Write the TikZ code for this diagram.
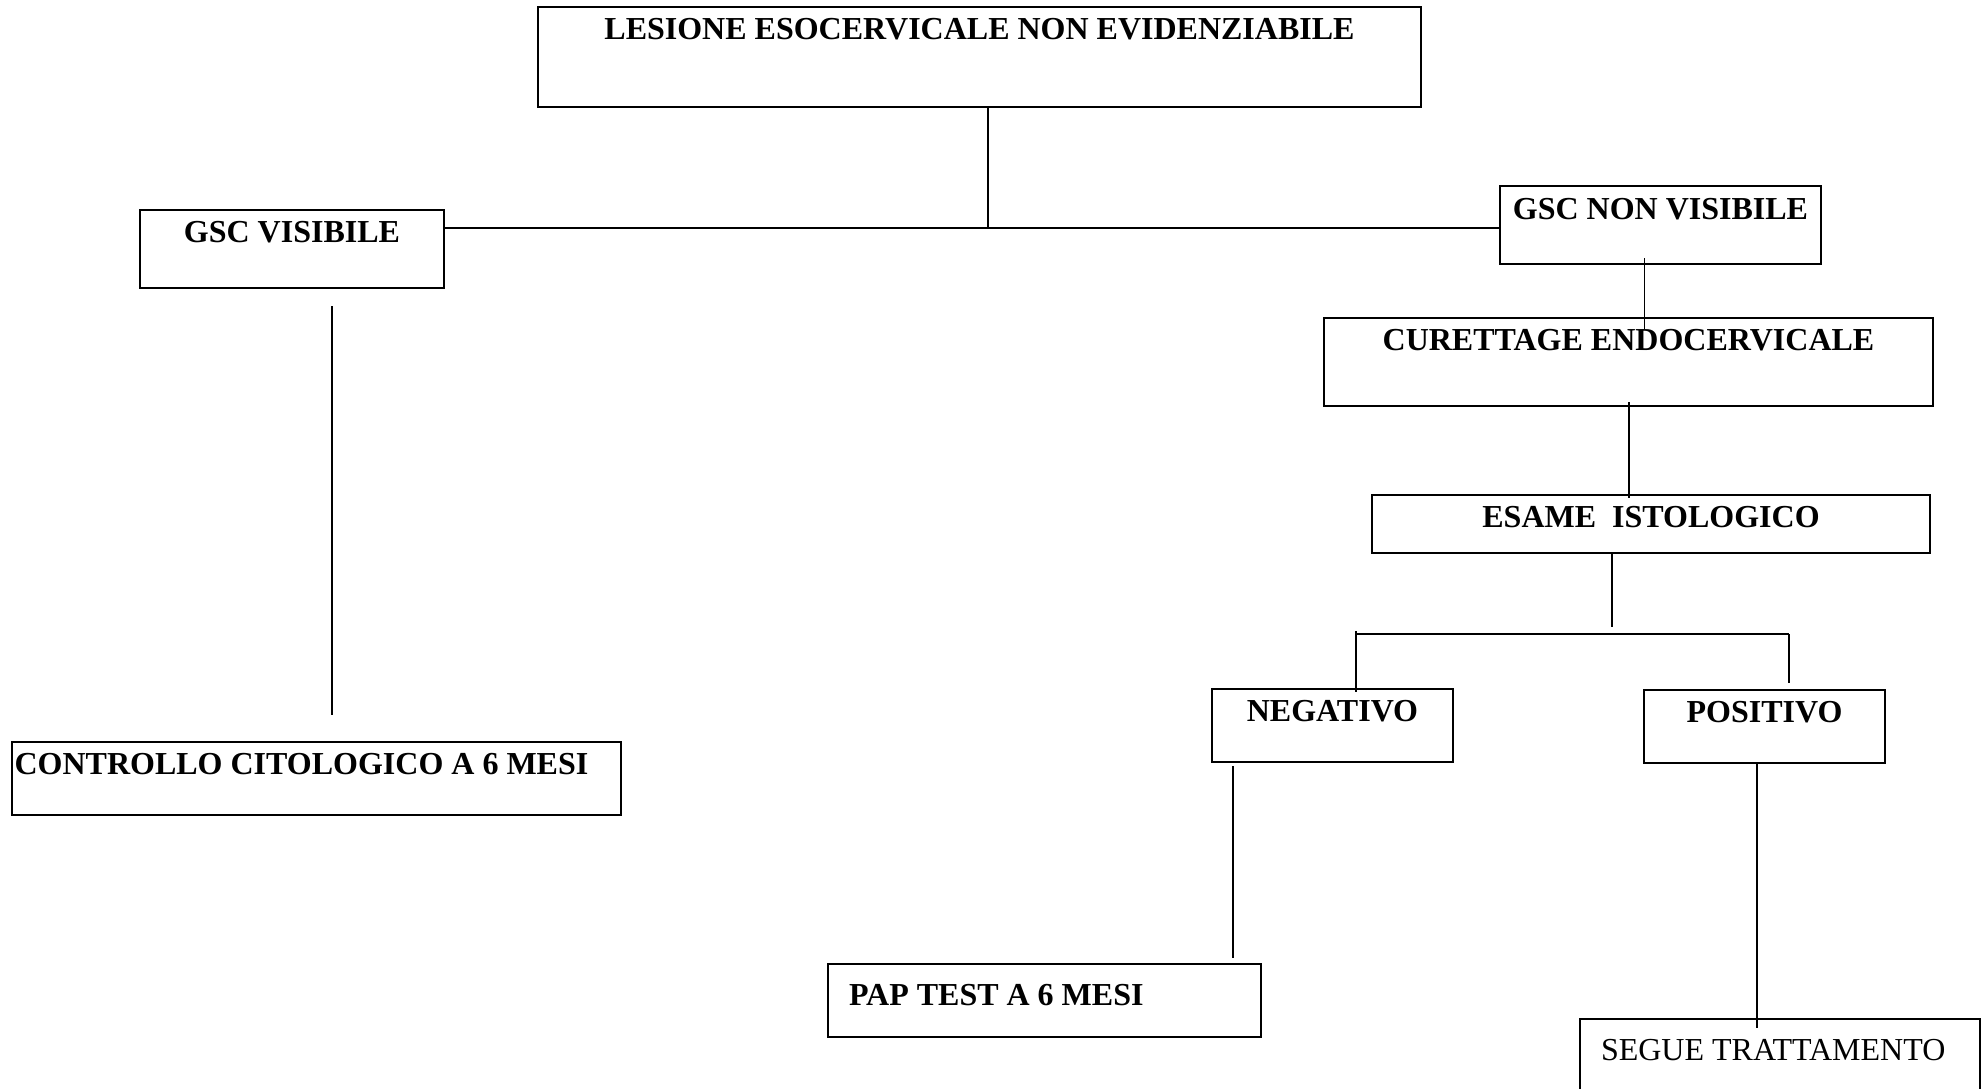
\documentclass[tikz,border=0pt]{standalone}
\usepackage{fontspec}
\setmainfont{Liberation Serif}
\begin{document}
\begin{tikzpicture}[x=0.5pt,y=-0.5pt,
  box/.style={draw, line width=1pt, rectangle, anchor=north west,
    inner xsep=0pt, inner ysep=0pt, outer sep=0pt,
    font=\fontsize{16pt}{19pt}\selectfont\bfseries},
  leftbox/.style={box, inner xsep=#1},
  leftbox/.default=2pt,
  link/.style={line width=0.75pt}]
\useasboundingbox (0,0) rectangle (1982,1088);
\clip (0,0) rectangle (1982,1088);

% boxes (text sits on the top line of each box)
\node[box, minimum width=441.5pt, text height=16pt, text depth=34pt] (top) at (538,7)
  {LESIONE ESOCERVICALE NON EVIDENZIABILE};
\node[box, minimum width=152pt, text height=16pt, text depth=23pt] (gscv) at (140,210)
  {GSC VISIBILE};
\node[leftbox=1.5pt, text height=16pt, text depth=20.25pt] (ctrl) at (11.6,742)
  {\makebox[301.5pt][l]{CONTROLLO CITOLOGICO A 6 MESI}};
\node[box, minimum width=160.5pt, text height=16.5pt, text depth=22.5pt] (gscnv) at (1500,186)
  {GSC NON VISIBILE};
\node[box, minimum width=304.5pt, text height=16pt, text depth=28pt] (cur) at (1324,318)
  {CURETTAGE ENDOCERVICALE};
\node[box, minimum width=279pt, text height=16pt, text depth=13pt] (esame) at (1372,495)
  {ESAME\ \ ISTOLOGICO};
\node[box, minimum width=120.5pt, text height=16pt, text depth=20.5pt] (neg) at (1212,689)
  {NEGATIVO};
\node[box, minimum width=120.5pt, text height=16pt, text depth=20.5pt] (pos) at (1644,690)
  {POSITIVO};
\node[leftbox=10.5pt, text height=20.5pt, text depth=16pt] (pap) at (828,964)
  {\makebox[195.5pt][l]{PAP TEST A 6 MESI}};
\node[leftbox=10.5pt, text height=20.5pt, text depth=30pt,
  font=\fontsize{16pt}{19pt}\selectfont] (segue) at (1580,1019)
  {\makebox[179pt][l]{SEGUE TRATTAMENTO}};

% connectors
\coordinate (j0) at (988,228);
\draw[link] (top.south -| j0) -- (j0);
\draw[link] (gscv.east |- j0) -- (gscnv.west |- j0);

\coordinate (va) at (332,306);
\coordinate (vb) at (332,715);
\draw[link] (va) -- (vb);

\coordinate (ca) at (1644.5,258);
\coordinate (cb) at (1644.5,329);
\draw[link] (ca) -- (cb);

\coordinate (da) at (1629,402);
\coordinate (db) at (1629,498);
\draw[link] (da) -- (db);

\coordinate (e1) at (1612,627);
\draw[link] (esame.south -| e1) -- (e1);

\coordinate (bl) at (1356,634);
\coordinate (br) at (1789,634);
\draw[line width=1pt] (bl) -- (br);
\coordinate (nl) at (1356,631);
\coordinate (nt) at (1356,692);
\draw[link] (nl) -- (nt);
\coordinate (pt) at (1789,683);
\draw[link] (br) -- (pt);

\coordinate (na) at (1233,766);
\coordinate (nb) at (1233,958);
\draw[link] (na) -- (nb);

\coordinate (pb) at (1757,1028);
\draw[link] (pos.south -| pb) -- (pb);
\end{tikzpicture}
\end{document}
